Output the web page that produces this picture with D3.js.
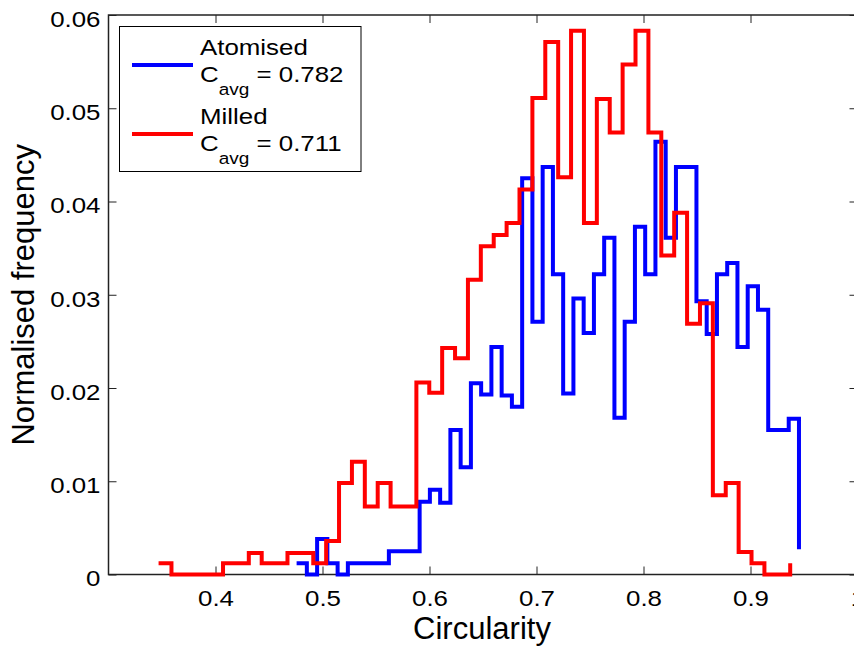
<!doctype html>
<html lang="en">
<head>
<meta charset="utf-8" />
<title>Circularity histogram</title>
<script src="https://cdn.jsdelivr.net/npm/d3@7"></script>
<style>
	body { margin: 0; background: #fff; }
	svg { display: block; font-family: "Liberation Sans", Arial, sans-serif; }
	.tick line { stroke: #222; stroke-width: 1; }
	.domain { display: none; }
</style>
</head>
<body>
<svg id="chart" width="854" height="648"></svg>
<script>
// histogram bins: first and last bin position, 50 points per series (stairs)
var atomisedRange = [0.4758, 0.9453];
var milledRange = [0.3468, 0.9371];

var atomised = [0.0012, 0, 0.0038, 0.0012, 0, 0.0012, 0.0012, 0.0012, 0.0012, 0.0025,
	0.0025, 0.0025, 0.0078, 0.0091, 0.0077, 0.0155, 0.0115, 0.0205, 0.0193, 0.0244,
	0.0192, 0.0180, 0.0425, 0.0271, 0.0437, 0.0322, 0.0194, 0.0296, 0.0259, 0.0322,
	0.0361, 0.0168, 0.0271, 0.0373, 0.0322, 0.0464, 0.0361, 0.0437, 0.0437, 0.0293,
	0.0258, 0.0322, 0.0334, 0.0244, 0.0309, 0.0284, 0.0155, 0.0155, 0.0167, 0.0027];

var milled = [0.0012, 0, 0, 0, 0, 0.0012, 0.0012, 0.0023, 0.0012, 0.0012,
	0.0023, 0.0023, 0.0012, 0.0036, 0.0098, 0.0121, 0.0073, 0.0098, 0.0073, 0.0073,
	0.0206, 0.0195, 0.0243, 0.0232, 0.0316, 0.0352, 0.0364, 0.0377, 0.0413, 0.0511,
	0.0571, 0.0426, 0.0583, 0.0377, 0.0510, 0.0474, 0.0547, 0.0583, 0.0474, 0.0342,
	0.0388, 0.0269, 0.0291, 0.0085, 0.0098, 0.0024, 0.0012, 0, 0, 0.0012];

var xTicks = [0.4, 0.5, 0.6, 0.7, 0.8, 0.9, 1];
var yTicks = [0, 0.01, 0.02, 0.03, 0.04, 0.05, 0.06];

var legendItems = [
	{ name: "Atomised", avg: "0.782", color: "#0000ff" },
	{ name: "Milled", avg: "0.711", color: "#ff0000" }
];

var svg = d3.select("#chart");
var plotL = 108.5, plotR = 857.5, plotT = 15, plotB = 574.5;
var sx = 1.15; // tick/legend text in the picture is a bit wider than Arial

var x = d3.scaleLinear().domain([0.3, 1]).range([plotL, plotR]);
var y = d3.scaleLinear().domain([0, 0.06]).range([plotB, plotT]);

function binsOf(range, values) {
	var step = (range[1] - range[0]) / (values.length - 1);
	return values.map(function (v, i) { return { c: range[0] + i * step, v: v }; });
}

// axes (ticks inside, mirrored on top/right)
svg.append("g").attr("transform", "translate(0," + plotB + ")")
	.call(d3.axisBottom(x).tickValues(xTicks).tickSizeInner(-8).tickSizeOuter(0).tickFormat(d3.format("")))
	.call(function (g) {
		g.selectAll("text").attr("y", 0).attr("dy", 0)
			.attr("transform", "translate(0,31) scale(" + sx + ",1)")
			.style("font-size", "22.5px").attr("fill", "#000");
	});
svg.append("g").attr("transform", "translate(0," + plotT + ")")
	.call(d3.axisTop(x).tickValues(xTicks).tickSizeInner(-8).tickSizeOuter(0).tickFormat(""));

svg.append("g").attr("transform", "translate(" + plotL + ",0)")
	.call(d3.axisLeft(y).tickValues(yTicks).tickSizeInner(-8).tickSizeOuter(0).tickFormat(d3.format("")))
	.call(function (g) {
		g.selectAll("text").attr("x", 0).attr("dy", "0.42em")
			.attr("transform", "translate(-8,2) scale(" + sx + ",1)")
			.style("font-size", "22.5px").attr("fill", "#000");
	});
svg.append("g").attr("transform", "translate(" + plotR + ",0)")
	.call(d3.axisRight(y).tickValues(yTicks).tickSizeInner(-8).tickSizeOuter(0).tickFormat(""));

svg.append("rect")
	.attr("x", plotL).attr("y", plotT)
	.attr("width", plotR - plotL).attr("height", plotB - plotT)
	.attr("fill", "none").attr("stroke", "#222").attr("stroke-width", 1.5);

// stairs
var line = d3.line()
	.x(function (d) { return x(d.c); })
	.y(function (d) { return y(d.v); })
	.curve(d3.curveStepAfter);

svg.append("path").datum(binsOf(atomisedRange, atomised))
	.attr("d", line).attr("fill", "none")
	.attr("stroke", "#0000ff").attr("stroke-width", 4);
svg.append("path").datum(binsOf(milledRange, milled))
	.attr("d", line).attr("fill", "none")
	.attr("stroke", "#ff0000").attr("stroke-width", 4);

// axis labels
svg.append("text")
	.attr("x", (plotL + plotR) / 2 - 1).attr("y", 639)
	.attr("text-anchor", "middle").style("font-size", "31px")
	.text("Circularity");
svg.append("text")
	.attr("transform", "translate(34," + ((plotT + plotB) / 2) + ") rotate(-90)")
	.attr("text-anchor", "middle").style("font-size", "31px")
	.text("Normalised frequency");

// legend
var lg = svg.append("g");
lg.append("rect")
	.attr("x", 119.5).attr("y", 26.5).attr("width", 241.5).attr("height", 145)
	.attr("fill", "#fff").attr("stroke", "#000").attr("stroke-width", 1);

legendItems.forEach(function (d, i) {
	var oy = i * 69;
	lg.append("line")
		.attr("x1", 132).attr("x2", 193)
		.attr("y1", 65 + oy).attr("y2", 65 + oy)
		.attr("stroke", d.color).attr("stroke-width", 4);
	lg.append("text")
		.attr("transform", "translate(200," + (55 + oy) + ") scale(" + sx + ",1)")
		.style("font-size", "22.5px").text(d.name);
	var t = lg.append("text")
		.attr("transform", "translate(200," + (81.5 + oy) + ") scale(" + sx + ",1)")
		.style("font-size", "22.5px");
	t.append("tspan").text("C");
	t.append("tspan").attr("dy", 13).style("font-size", "16.5px").text("avg");
	t.append("tspan").attr("dy", -13).text(" = " + d.avg);
});
</script>
</body>
</html>
